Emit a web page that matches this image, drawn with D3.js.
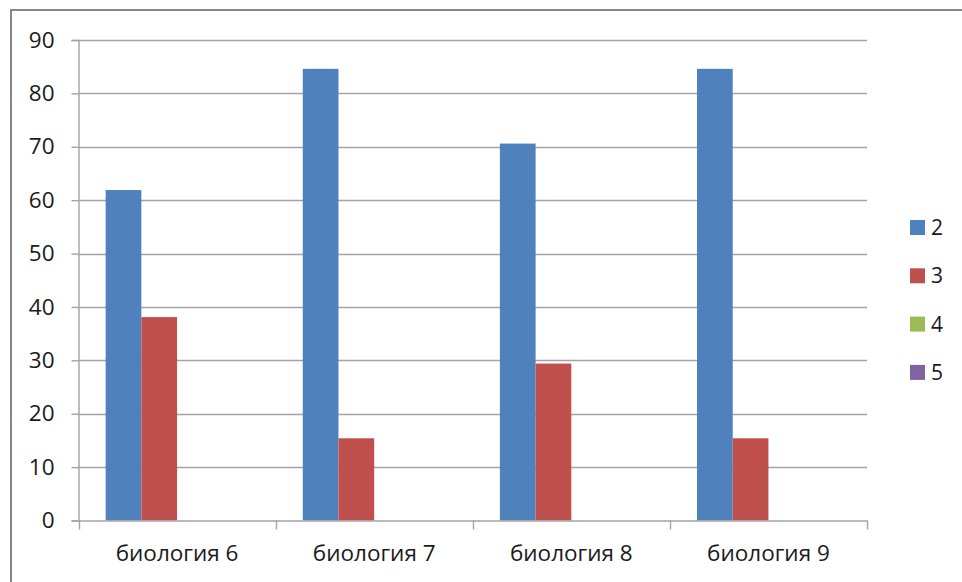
<!DOCTYPE html>
<html>
<head>
<meta charset="utf-8">
<script src="https://cdn.jsdelivr.net/npm/d3@7"></script>
<style>
  html, body { margin: 0; padding: 0; background: #fff; }
  svg { display: block; }
  text { font-family: "Open Sans", sans-serif; fill: #1a1a1a; }
</style>
</head>
<body>
<svg id="chart" width="962" height="582"></svg>
<script>
const categories = ["биология 6", "биология 7", "биология 8", "биология 9"];
const seriesNames = ["2", "3", "4", "5"];
const series2 = [61.9, 84.6, 70.6, 84.6];
const series3 = [38.1, 15.4, 29.4, 15.4];
const series4 = [0, 0, 0, 0];
const series5 = [0, 0, 0, 0];
const seriesColors = ["#4F81BD", "#C0504D", "#9BBB59", "#8064A2"];
const yTicks = [0, 10, 20, 30, 40, 50, 60, 70, 80, 90];

const seriesValues = [series2, series3, series4, series5];

const svg = d3.select("#chart");
const W = 962, H = 582;
const plot = { left: 78.5, right: 867, top: 40, bottom: 520.5 };

// outer frame
svg.append("rect")
  .attr("x", 11).attr("y", 10)
  .attr("width", W + 20).attr("height", H + 20)
  .attr("fill", "none").attr("stroke", "#878787").attr("stroke-width", 2);

const x0 = d3.scaleBand().domain(categories).range([plot.left, plot.right]).padding(0);
const x1 = d3.scaleBand().domain(seriesNames).range([0, x0.bandwidth()])
  .paddingInner(0).paddingOuter(0.76);
const y = d3.scaleLinear().domain([0, 90]).range([plot.bottom, plot.top]);

const gridColor = "#a3a3a3";

// gridlines + y ticks
const yAxis = d3.axisLeft(y).tickValues(yTicks).tickSize(7).tickPadding(17).tickFormat(d3.format("d"));
const gy = svg.append("g").attr("transform", `translate(${plot.left},0)`).call(yAxis);
gy.select(".domain").attr("stroke", gridColor).attr("stroke-width", 1.4);
gy.selectAll(".tick line").attr("stroke", gridColor).attr("stroke-width", 1.4);
gy.selectAll(".tick text").attr("font-size", 22.5).attr("font-family", "Open Sans").attr("fill", "#1a1a1a");

svg.append("g").selectAll("line.grid")
  .data(yTicks.filter(d => d > 0))
  .join("line")
  .attr("x1", plot.left).attr("x2", plot.right)
  .attr("y1", d => Math.round(y(d)) + 0.5).attr("y2", d => Math.round(y(d)) + 0.5)
  .attr("stroke", gridColor).attr("stroke-width", 1.4);

// bars
const groups = svg.append("g").selectAll("g")
  .data(categories)
  .join("g")
  .attr("transform", d => `translate(${x0(d)},0)`);

groups.selectAll("rect")
  .data((c, i) => seriesNames.map((s, j) => ({ s, v: seriesValues[j][i], color: seriesColors[j] })))
  .join("rect")
  .attr("x", d => x1(d.s))
  .attr("width", x1.bandwidth())
  .attr("y", d => y(d.v))
  .attr("height", d => y(0) - y(d.v))
  .attr("fill", d => d.color);

// x axis
const xAxis = d3.axisBottom(x0).tickSize(0).tickPadding(25);
const gx = svg.append("g").attr("transform", `translate(0,${plot.bottom})`).call(xAxis);
gx.select(".domain").attr("stroke", gridColor).attr("stroke-width", 1.4);
gx.selectAll(".tick text").attr("font-size", 22.5).attr("font-family", "Open Sans").attr("fill", "#1a1a1a");

// category boundary ticks
const bounds = categories.map(c => x0(c)).concat([plot.right]);
svg.append("g").selectAll("line")
  .data(bounds)
  .join("line")
  .attr("x1", d => Math.round(d) + 0.5).attr("x2", d => Math.round(d) + 0.5)
  .attr("y1", plot.bottom).attr("y2", plot.bottom + 9)
  .attr("stroke", gridColor).attr("stroke-width", 1.4);

// legend
const legend = svg.append("g").selectAll("g")
  .data(seriesNames)
  .join("g")
  .attr("transform", (d, i) => `translate(910,${227.5 + i * 48.3})`);
legend.append("rect")
  .attr("x", 0).attr("y", -7.5).attr("width", 15).attr("height", 15)
  .attr("fill", (d, i) => seriesColors[i]);
legend.append("text")
  .attr("x", 21).attr("y", 0).attr("dy", "0.36em")
  .attr("font-size", 21)
  .text(d => d);
</script>
</body>
</html>
